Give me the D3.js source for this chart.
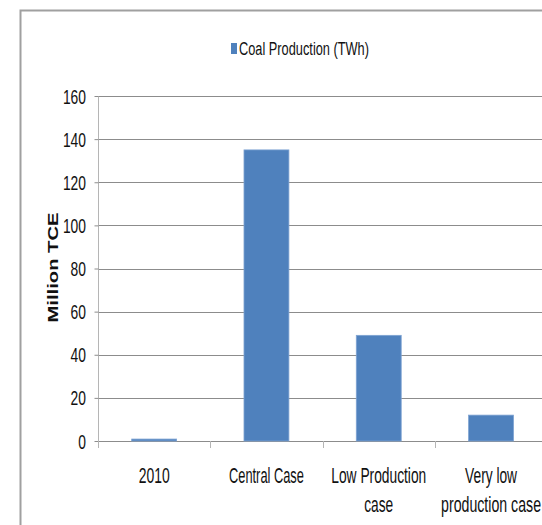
<!DOCTYPE html>
<html>
<head>
<meta charset="utf-8">
<script src="https://cdn.jsdelivr.net/npm/d3@7"></script>
<style>
  html, body { margin: 0; padding: 0; background: #fff; }
  svg { display: block; }
  text { font-family: "Liberation Sans Narrow", "Liberation Sans", Arial, sans-serif; fill: #111; }
</style>
</head>
<body>
<svg id="chart" width="542" height="525"></svg>
<script>
// Coal production by scenario
const categories = ["2010", "Central Case", "Low Production\ncase", "Very low\nproduction case"];
const values = [0.9, 135, 49, 12];
const yTicks = [0, 20, 40, 60, 80, 100, 120, 140, 160];
const seriesName = "Coal Production (TWh)";
const yTitle = "Million TCE";

const svg = d3.select("#chart");
const barColor = "#4f81bd";

const plot = { left: 98, top: 96, bottom: 441, step: 112.3 };
plot.right = plot.left + plot.step * categories.length;

const x = d3.scaleBand()
  .domain(categories)
  .range([plot.left, plot.right])
  .paddingInner(0.6)
  .paddingOuter(0.3);

const y = d3.scaleLinear().domain([0, 160]).range([plot.bottom, plot.top]);

// Draw a condensed text: set at (px, py) with the given anchor, then squeeze it horizontally
// so it spans `width` pixels.
function condensedText(parent, str, px, py, size, width, anchor, extra) {
  const t = parent.append("text")
    .attr("font-size", size)
    .attr("text-anchor", anchor)
    .text(str);
  if (extra) extra(t);
  const natural = t.node().getComputedTextLength();
  const sx = natural > 0 ? width / natural : 1;
  t.attr("transform", `translate(${px},${py}) scale(${sx},1)`);
  return t;
}

// outer frame of the chart area
svg.append("path")
  .attr("d", `M20.5,525 L20.5,10.5 L542,10.5`)
  .attr("fill", "none")
  .attr("stroke", "#a0a0a0")
  .attr("stroke-width", 2);

// horizontal gridlines
svg.append("g")
  .selectAll("line")
  .data(yTicks.filter(d => d > 0))
  .join("line")
  .attr("x1", plot.left).attr("x2", plot.right)
  .attr("y1", d => Math.round(y(d)) + 0.5).attr("y2", d => Math.round(y(d)) + 0.5)
  .attr("stroke", "#8c8c8c")
  .attr("stroke-width", 1);

// y axis line and ticks
const yAxis = svg.append("g")
  .attr("transform", `translate(${plot.left + 0.5},0)`)
  .call(d3.axisLeft(y).tickValues(yTicks).tickSize(4).tickFormat(() => ""));
yAxis.select(".domain").attr("stroke", "#b5b5b5").attr("d", `M0,${plot.top}V${plot.bottom + 7}`);
yAxis.selectAll(".tick line").attr("stroke", "#8c8c8c");
yAxis.selectAll(".tick text").remove();

// y tick labels, right-aligned beside the axis
const yLabels = svg.append("g");
yTicks.forEach(v => {
  const s = d3.format("d")(v);
  condensedText(yLabels, s, 86, y(v) + 7.5, 21, s.length * 7.7, "end");
});

// x axis baseline and category separators
const xAxisG = svg.append("g");
xAxisG.append("line")
  .attr("x1", plot.left).attr("x2", plot.right)
  .attr("y1", plot.bottom + 0.5).attr("y2", plot.bottom + 0.5)
  .attr("stroke", "#8c8c8c");
const bounds = categories.map((c, i) => plot.left + i * plot.step).concat([plot.right]);
xAxisG.selectAll("line.sep")
  .data(bounds)
  .join("line")
  .attr("class", "sep")
  .attr("x1", d => Math.round(d) + 0.5).attr("x2", d => Math.round(d) + 0.5)
  .attr("y1", plot.bottom).attr("y2", plot.bottom + 7)
  .attr("stroke", "#b5b5b5");

// bars
svg.append("g")
  .selectAll("rect")
  .data(values)
  .join("rect")
  .attr("x", (d, i) => x(categories[i]))
  .attr("width", x.bandwidth())
  .attr("y", d => y(d))
  .attr("height", d => y(0) - y(d))
  .attr("fill", barColor)
  .attr("stroke", "#7ea3d2")
  .attr("stroke-width", 0.8);

// category labels, wrapped on newlines
const labelWidths = {
  "2010": 31, "Central Case": 75, "Low Production": 95, "case": 29,
  "Very low": 52, "production case": 100
};
const labels = svg.append("g");
categories.forEach(c => {
  const cx = x(c) + x.bandwidth() / 2;
  c.split("\n").forEach((line, k) => {
    condensedText(labels, line, cx, 483 + k * 29, 22, labelWidths[line], "middle");
  });
});

// y axis title
const titleG = svg.append("g")
  .attr("transform", `translate(58,${(plot.top + plot.bottom) / 2 - 1}) rotate(-90)`);
condensedText(titleG, yTitle, 0, 0, 14, 110, "middle", t => t
  .attr("font-family", "'Liberation Sans', Arial, sans-serif")
  .attr("font-weight", "bold"));

// legend
const legend = svg.append("g");
legend.append("rect")
  .attr("x", 231).attr("y", 43)
  .attr("width", 6).attr("height", 11)
  .attr("fill", barColor);
condensedText(legend, seriesName, 239, 55, 18, 130, "start");
</script>
</body>
</html>
